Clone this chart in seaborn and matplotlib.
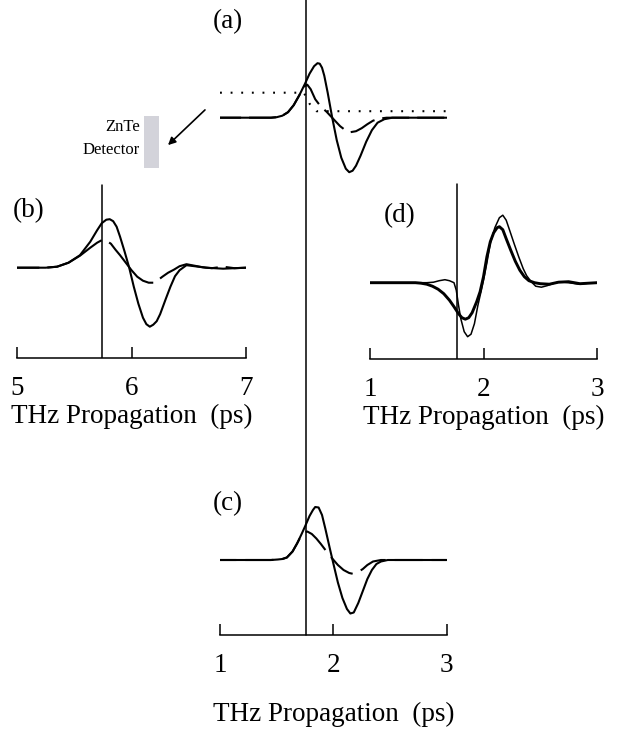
import numpy as np
import matplotlib
matplotlib.use("Agg")
import matplotlib.pyplot as plt
from matplotlib.patches import Rectangle, FancyArrowPatch
import seaborn as sns

# ---- THz waveforms: time in ps, field in arbitrary units ----
# (a) pulse at the detector crystal
time_a_solid = [1.00, 1.45, 1.50, 1.55, 1.60, 1.65, 1.70, 1.75, 1.79, 1.83, 1.86, 1.88, 1.90, 1.92, 1.95,
                1.99, 2.03, 2.07, 2.11, 2.14, 2.17, 2.20, 2.24, 2.29, 2.34, 2.39, 2.45, 2.52, 3.00]
field_a_solid = [0.00, 0.00, 0.01, 0.04, 0.11, 0.25, 0.45, 0.68, 0.88, 1.03, 1.09, 1.08, 1.00, 0.84, 0.50,
                 0.00, -0.45, -0.80, -1.02, -1.09, -1.06, -0.96, -0.76, -0.48, -0.25, -0.10, -0.03, 0.00, 0.00]
time_a_dashed = [1.00, 1.45, 1.50, 1.55, 1.60, 1.65, 1.70, 1.74, 1.77, 1.80, 1.84, 1.89, 1.94, 2.01, 2.06,
                 2.10, 2.15, 2.20, 2.25, 2.30, 2.35, 2.40, 2.47, 3.00]
field_a_dashed = [0.00, 0.00, 0.01, 0.04, 0.11, 0.25, 0.45, 0.62, 0.66, 0.57, 0.37, 0.22, 0.12, -0.05, -0.17,
                  -0.24, -0.29, -0.27, -0.21, -0.13, -0.06, -0.02, 0.00, 0.00]
time_a_dotted = [1.00, 1.74, 1.79, 1.85, 3.00]
field_a_dotted = [0.50, 0.50, 0.28, 0.13, 0.13]

# (b)
time_b_solid = [5.00, 5.25, 5.35, 5.45, 5.55, 5.64, 5.70, 5.74, 5.78, 5.81, 5.84, 5.87, 5.90, 5.94, 5.98, 6.02,
                6.06, 6.10, 6.13, 6.16, 6.19, 6.22, 6.25, 6.30, 6.34, 6.38, 6.42, 6.48, 6.55, 6.65, 6.80, 7.00]
field_b_solid = [0.00, 0.00, 0.02, 0.10, 0.25, 0.52, 0.75, 0.89, 0.96, 0.97, 0.93, 0.82, 0.62, 0.32, 0.00, -0.38,
                 -0.72, -1.00, -1.13, -1.18, -1.14, -1.07, -0.93, -0.62, -0.38, -0.17, -0.05, 0.05, 0.03, 0.00,
                 -0.02, 0.00]
time_b_dashed = [5.00, 5.25, 5.35, 5.45, 5.55, 5.64, 5.70, 5.74, 5.78, 5.82, 5.86, 5.90, 5.95, 6.00, 6.05,
                 6.10, 6.15, 6.19, 6.23, 6.27, 6.32, 6.37, 6.42, 6.48, 6.55, 6.62, 6.70, 6.80, 6.90, 7.00]
field_b_dashed = [0.00, 0.00, 0.02, 0.10, 0.24, 0.40, 0.50, 0.55, 0.54, 0.48, 0.36, 0.25, 0.10, -0.05, -0.18,
                  -0.26, -0.30, -0.30, -0.25, -0.18, -0.10, -0.04, 0.03, 0.07, 0.04, 0.01, -0.01, 0.02, -0.01,
                  0.00]

# (c)
time_c_solid = [1.00, 1.45, 1.51, 1.55, 1.59, 1.64, 1.68, 1.72, 1.75, 1.79, 1.82, 1.84, 1.87, 1.90, 1.93,
                1.97, 2.00, 2.04, 2.08, 2.12, 2.15, 2.18, 2.22, 2.26, 2.30, 2.34, 2.38, 2.42, 2.48, 3.00]
field_c_solid = [0.00, 0.00, 0.01, 0.02, 0.05, 0.17, 0.33, 0.52, 0.67, 0.88, 1.00, 1.06, 1.05, 0.90, 0.62,
                 0.22, -0.07, -0.45, -0.76, -0.98, -1.07, -1.05, -0.86, -0.62, -0.38, -0.20, -0.08, -0.03,
                 0.00, 0.00]
time_c_dashed = [1.00, 1.45, 1.51, 1.55, 1.59, 1.64, 1.68, 1.71, 1.74, 1.77, 1.81, 1.85, 1.89, 1.93, 1.99,
                 2.04, 2.09, 2.14, 2.18, 2.22, 2.26, 2.30, 2.35, 2.42, 3.00]
field_c_dashed = [0.00, 0.00, 0.01, 0.02, 0.05, 0.17, 0.33, 0.46, 0.55, 0.57, 0.52, 0.43, 0.32, 0.20, 0.03,
                  -0.10, -0.20, -0.26, -0.28, -0.24, -0.18, -0.10, -0.03, 0.00, 0.00]

# (d)
time_d_thin = [1.00, 1.50, 1.56, 1.61, 1.66, 1.70, 1.74, 1.76, 1.78, 1.80, 1.83, 1.86, 1.89, 1.92, 1.95,
               1.98, 2.00, 2.03, 2.06, 2.10, 2.14, 2.17, 2.20, 2.23, 2.27, 2.31, 2.35, 2.38, 2.42, 2.46,
               2.51, 2.56, 2.61, 2.67, 2.75, 2.84, 2.92, 3.00]
field_d_thin = [0.00, 0.00, 0.01, 0.04, 0.06, 0.04, 0.00, -0.15, -0.45, -0.72, -0.98, -1.08, -1.03, -0.82,
                -0.46, -0.16, 0.05, 0.40, 0.79, 1.10, 1.30, 1.35, 1.25, 1.05, 0.78, 0.52, 0.28, 0.14, 0.02,
                -0.07, -0.09, -0.06, -0.02, 0.02, 0.00, -0.03, -0.01, 0.00]
time_d_thick = [1.00, 1.40, 1.45, 1.50, 1.55, 1.60, 1.65, 1.70, 1.74, 1.78, 1.81, 1.84, 1.87, 1.90, 1.94,
                1.97, 2.00, 2.03, 2.06, 2.09, 2.12, 2.14, 2.17, 2.20, 2.24, 2.28, 2.32, 2.36, 2.40, 2.45,
                2.50, 2.58, 2.66, 2.75, 2.85, 3.00]
field_d_thick = [0.00, 0.00, -0.01, -0.03, -0.07, -0.13, -0.22, -0.35, -0.48, -0.62, -0.70, -0.73, -0.70,
                 -0.60, -0.38, -0.18, 0.12, 0.52, 0.82, 1.00, 1.10, 1.12, 1.06, 0.88, 0.65, 0.43, 0.25, 0.12,
                 0.04, 0.00, -0.02, -0.03, 0.01, 0.02, -0.02, 0.00]

# reference times (vertical markers)
ref_time_ac = 1.76
ref_time_b = 5.74
ref_time_d = 1.767

ticks_b = [5, 6, 7]
ticks_cd = [1, 2, 3]
x_title = "THz Propagation  (ps)"
panel_labels = ["(a)", "(b)", "(c)", "(d)"]
detector_text = ["ZnTe", "Detector"]

# ---- figure ----
sns.set_style("white")
plt.rcParams.update({
    "font.family": ["Liberation Serif", "DejaVu Serif"],
    "text.color": "black",
    "axes.labelcolor": "black",
    "xtick.color": "black",
    "axes.edgecolor": "black",
})

W, H = 633, 739
DPI = 100
fig = plt.figure(figsize=(W / DPI, H / DPI), dpi=DPI)
PX_PER_UNIT = 50.0
FS = 19.5


def px_axes(x0, x1, y_top, y_bot, y_base):
    ax = fig.add_axes([x0 / W, 1 - y_bot / H, (x1 - x0) / W, (y_bot - y_top) / H])
    ax.set_ylim(-(y_bot - y_base) / PX_PER_UNIT, (y_base - y_top) / PX_PER_UNIT)
    ax.patch.set_alpha(0)
    return ax


def trace(ax, t, v, lw=1.5, dashes=None):
    sns.lineplot(x=t, y=v, ax=ax, color="black", linewidth=lw, estimator=None, sort=False)
    line = ax.lines[-1]
    line.set_solid_capstyle("round")
    if dashes is not None:
        line.set_dashes(dashes)
    return line


def phase_dashes(ax, line, t, v, t_gap, on_px, off_px):
    """Dash the line so that a gap opens at time t_gap (lengths in pixels)."""
    xy = ax.transData.transform(np.column_stack([t, v]))
    arc = np.concatenate([[0.0], np.cumsum(np.hypot(*np.diff(xy, axis=0).T))])
    s_gap = np.interp(t_gap, t, arc)
    offset = (on_px - s_gap) % (on_px + off_px)
    k = 72.0 / DPI / line.get_linewidth()
    line.set_linestyle((offset * k, (on_px * k, off_px * k)))


def time_axis(ax, lo, hi, ticks, labelpad):
    ax.set_xlim(lo, hi)
    for side in ("left", "right", "top"):
        ax.spines[side].set_visible(False)
    ax.spines["bottom"].set_linewidth(1.1)
    ax.set_yticks([])
    ax.set_xticks(ticks)
    ax.set_xticklabels([str(t) for t in ticks])
    ax.tick_params(axis="x", bottom=True, direction="in", length=8, width=1.1,
                   labelsize=FS, pad=13)
    ax.set_xlabel(x_title, fontsize=FS, labelpad=labelpad)
    ax.set_ylabel("")


# (a)
ax_a = px_axes(220, 446.7, 30, 190, 117.7)
ax_a.set_xlim(1, 3)
trace(ax_a, time_a_solid, field_a_solid)
dash_a = trace(ax_a, time_a_dashed, field_a_dashed)
phase_dashes(ax_a, dash_a, time_a_dashed, field_a_dashed, 2.09, 27, 8)
trace(ax_a, time_a_dotted, field_a_dotted, lw=1.5, dashes=(0.9, 4.2))
ax_a.set_xlabel("")
ax_a.set_ylabel("")
ax_a.axis("off")

# (b)
ax_b = px_axes(17, 246, 180, 358, 267.7)
time_axis(ax_b, 5, 7, ticks_b, 2)
trace(ax_b, time_b_solid, field_b_solid)
dash_b = trace(ax_b, time_b_dashed, field_b_dashed)
phase_dashes(ax_b, dash_b, time_b_dashed, field_b_dashed, 6.19, 62, 8)
ax_b.set_xlabel(x_title, fontsize=FS, labelpad=2)
ax_b.axvline(ref_time_b, 0, (358 - 185) / (358 - 180), color="black", lw=1.1)

# (d)
ax_d = px_axes(370, 597, 180, 359, 282.7)
time_axis(ax_d, 1, 3, ticks_cd, 2)
trace(ax_d, time_d_thick, field_d_thick, lw=2.1)
trace(ax_d, time_d_thin, field_d_thin, lw=1.1)
ax_d.set_xlabel(x_title, fontsize=FS, labelpad=2)
ax_d.axvline(ref_time_d, 0, (359 - 184) / (359 - 180), color="black", lw=1.1)

# (c)
ax_c = px_axes(220, 446.7, 480, 635, 560)
time_axis(ax_c, 1, 3, ticks_cd, 17)
trace(ax_c, time_c_solid, field_c_solid)
dash_c = trace(ax_c, time_c_dashed, field_c_dashed)
phase_dashes(ax_c, dash_c, time_c_dashed, field_c_dashed, 1.93, 28, 9)
ax_c.set_xlabel(x_title, fontsize=FS, labelpad=17)
# long reference line running from panel (c) up through panel (a)
pos = ax_c.get_position()
ax_c.axvline(ref_time_ac, 0, (1 - pos.y0) / pos.height, color="black", lw=1.1, clip_on=False)

# panel letters
for lab, (x, y) in zip(panel_labels, [(228, 22), (29, 211), (228, 504), (400, 216)]):
    fig.text(x / W, 1 - y / H, lab, fontsize=FS, ha="center", va="center")

# detector crystal and arrow
fig.add_artist(Rectangle((144 / W, 1 - 168 / H), 15 / W, 52 / H, transform=fig.transFigure,
                         facecolor="#d3d3da", edgecolor="none"))
fig.text(140 / W, 1 - 127 / H, detector_text[0], fontsize=12, ha="right", va="center")
fig.text(140 / W, 1 - 150 / H, detector_text[1], fontsize=12, ha="right", va="center")
fig.add_artist(FancyArrowPatch((207 / W, 1 - 108 / H), (166 / W, 1 - 147 / H),
                               transform=fig.transFigure, arrowstyle="-|>",
                               mutation_scale=11, lw=1.2, color="black"))

fig.savefig("out.png", dpi=DPI)
